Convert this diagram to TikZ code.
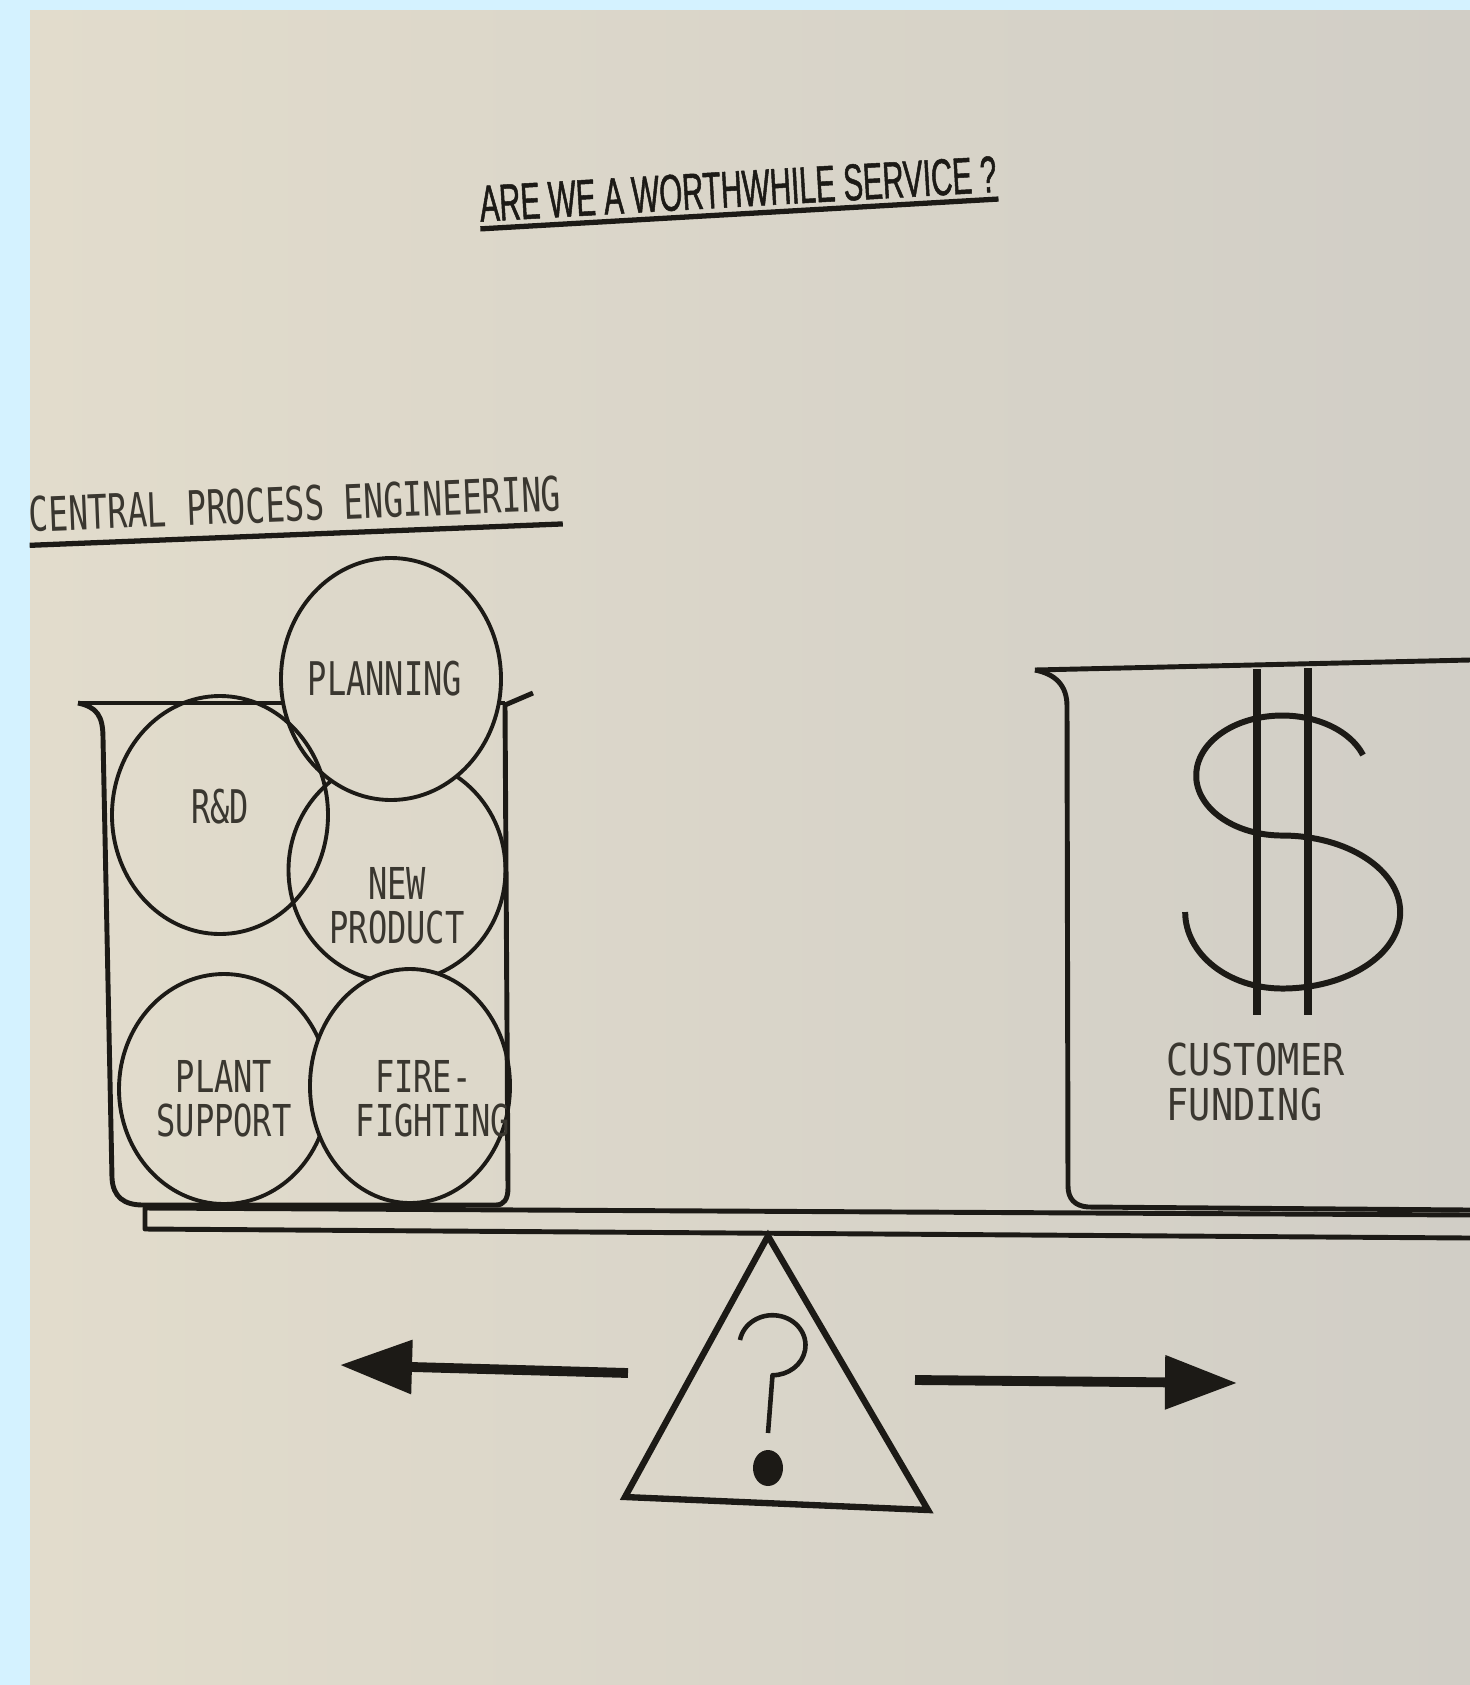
\documentclass[tikz,border=0pt]{standalone}
\usepackage{fontspec}
\usepackage{tikz}
\usetikzlibrary{arrows.meta,shapes.geometric,positioning,calc}

\newfontfamily\printfont[FakeStretch=0.69]{DejaVu Sans Mono}
\newfontfamily\tightfont[FakeStretch=0.73]{DejaVu Sans Mono}
\newfontfamily\widefont[FakeStretch=0.84]{DejaVu Sans Mono}
\newfontfamily\titlefont[FakeStretch=0.57,FakeBold=1]{Liberation Sans}

\definecolor{sky}{RGB}{212,242,255}
\definecolor{paper}{RGB}{221,216,202}
\definecolor{paperl}{RGB}{226,220,204}
\definecolor{paperr}{RGB}{209,206,198}
\definecolor{inkc}{RGB}{28,26,22}
\definecolor{textc}{RGB}{58,55,48}

\begin{document}
\begin{tikzpicture}[
    ink/.style={draw=inkc, line width=1.4pt, line join=round},
    ball/.style={ellipse, draw=inkc, line width=1.1pt, inner sep=0pt},
    lbl/.style={font=\printfont\fontsize{13.2}{11.5}\selectfont, text=textc, align=center, inner sep=0pt},
    twoline/.style={lbl, font=\tightfont\fontsize{12.5}{12.6}\selectfont},
    uline/.style={draw=inkc, line width=1.5pt},
    arr/.style={-{Triangle[length=7.2mm, width=5.2mm]}, line width=2.8pt, draw=inkc}
]
\useasboundingbox (0,0) rectangle (14.70,-16.85);
\fill[sky] (0,0) rectangle (14.70,-16.85);
\shade[left color=paperl, right color=paperr] (0.30,-0.10) rectangle (14.70,-16.85);

% title and heading
\node[font=\titlefont\fontsize{14.7}{16}\selectfont, text=inkc, rotate=3.3, inner xsep=0pt, inner ysep=0.6mm] (title) at (7.38,-1.89) {ARE WE A WORTHWHILE SERVICE ?};
\draw[uline] (title.south west) -- (title.south east);
\node[lbl, font=\printfont\fontsize{13.5}{11.5}\selectfont, rotate=2.3, inner ysep=1.2mm] (dept) at (2.95,-5.04) {CENTRAL PROCESS ENGINEERING};
\draw[uline] (dept.south west) -- (dept.south east);

% left pan
\draw[ink] (0.78,-7.03) -- (5.05,-7.03);
\node[ball, minimum width=2.17cm, minimum height=2.24cm] (np) at (3.97,-8.70) {};
\node[ball, fill=paper, minimum width=2.20cm, minimum height=2.42cm] (plan) at (3.91,-6.79) {};
\node[ball, minimum width=2.16cm, minimum height=2.38cm] (rd) at (2.20,-8.15) {};
\node[ball, minimum width=2.10cm, minimum height=2.30cm] (ps) at (2.24,-10.89) {};
\node[ball, fill=paper, minimum width=2.00cm, minimum height=2.34cm] (ff) at (4.10,-10.86) {};
\draw[ink] (0.78,-7.03) .. controls (0.97,-7.07) and (1.03,-7.16) .. (1.03,-7.38)
  -- (1.12,-11.78) .. controls (1.13,-11.97) and (1.24,-12.05) .. (1.43,-12.05)
  -- (4.96,-12.05) .. controls (5.04,-12.05) and (5.08,-11.99) .. (5.08,-11.88)
  -- (5.05,-7.05) -- (5.33,-6.93);

\node[lbl] (planlbl) at ([xshift=-0.6mm]plan.center) {PLANNING};
\node[lbl] (rdlbl) at ([yshift=0.8mm]rd.center) {R\&D};
\node[twoline] (nplbl) at ([yshift=-3.6mm]np.center) {NEW\\PRODUCT};
\node[twoline] (pslbl) at ([yshift=-1mm]ps.center) {PLANT\\SUPPORT};
\node[twoline] (fflbl) at ([xshift=2.3mm,yshift=-1.3mm]ff.center) {FIRE-\hphantom{X}\\FIGHTING};

% right pan
\draw[ink] (10.35,-6.70) -- (14.70,-6.60);
\draw[ink] (10.35,-6.70) .. controls (10.55,-6.74) and (10.67,-6.85) .. (10.67,-7.06)
  -- (10.68,-11.86) .. controls (10.68,-11.99) and (10.75,-12.06) .. (10.88,-12.07) -- (14.70,-12.10);
\draw[ink, line width=2.2pt] (12.57,-6.69) -- (12.57,-10.15);
\draw[ink, line width=2.2pt] (13.08,-6.68) -- (13.08,-10.15);
\draw[ink, line width=1.7pt] (13.63,-7.55) arc[start angle=20, end angle=270, x radius=0.86, y radius=0.60]
  arc[start angle=90, end angle=-90, x radius=1.18, y radius=0.765]
  arc[start angle=-90, end angle=-180, x radius=0.97, y radius=0.765];
\node[twoline, font=\widefont\fontsize{12.5}{12.6}\selectfont, align=left, anchor=west] (fund) at (11.66,-10.82) {CUSTOMER\\FUNDING};

% plank and fulcrum
\draw[ink] (14.70,-12.15) -- (1.45,-12.08) -- (1.45,-12.29) -- (14.70,-12.38);
\coordinate (apex) at (7.68,-12.36);
\coordinate (baseL) at (6.25,-14.97);
\coordinate (baseR) at (9.28,-15.10);
\draw[ink, line width=1.8pt, line join=miter] (apex) -- (baseR) -- (baseL) -- cycle;
\draw[ink, line width=1.3pt] (7.40,-13.40) arc[start angle=170, end angle=-90, x radius=0.33, y radius=0.30] -- (7.68,-14.33);
\fill[inkc] (7.68,-14.68) ellipse[x radius=0.15, y radius=0.18];

\coordinate (lfrom) at (6.28,-13.73);
\coordinate (lto) at (3.40,-13.65);
\coordinate (rfrom) at (9.15,-13.80);
\coordinate (rto) at (12.37,-13.83);
\draw[arr] (lfrom) -- (lto);
\draw[arr] (rfrom) -- (rto);
\end{tikzpicture}
\end{document}
